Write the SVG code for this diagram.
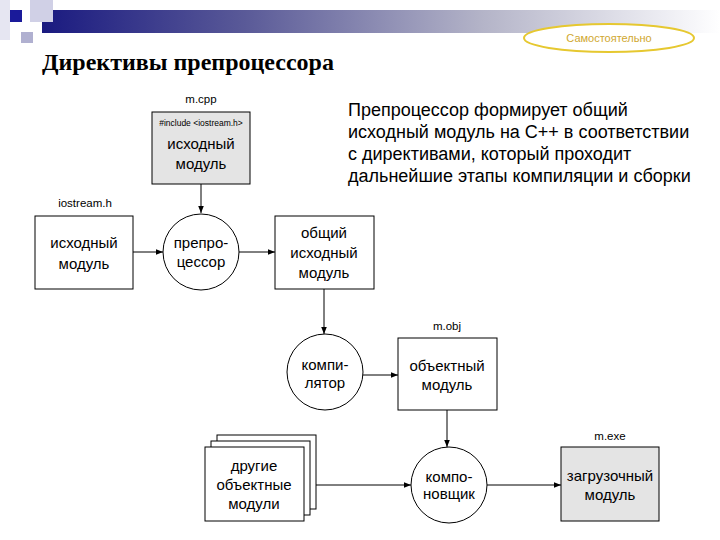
<svg xmlns="http://www.w3.org/2000/svg" width="720" height="540" viewBox="0 0 720 540">
<defs>
<linearGradient id="bar" x1="0" y1="0" x2="1" y2="0">
<stop offset="0" stop-color="#1a1a80"/>
<stop offset="0.3" stop-color="#5a5a98"/>
<stop offset="0.65" stop-color="#b4b4c8"/>
<stop offset="0.95" stop-color="#f4f4f8"/>
<stop offset="1" stop-color="#ffffff"/>
</linearGradient>
<marker id="arr" viewBox="0 0 10 10" refX="10" refY="5" markerWidth="7" markerHeight="7" orient="auto" markerUnits="userSpaceOnUse">
<path d="M0,1 L10,5 L0,9 Z" fill="#000"/>
</marker>
<style>
.box{fill:#fff;stroke:#000;stroke-width:1}
.gray{fill:#e4e4e4;stroke:#000;stroke-width:1}
.t{font-family:"Liberation Sans",Arial,sans-serif;font-size:15px;fill:#000;text-anchor:middle}
.s{font-family:"Liberation Sans",Arial,sans-serif;font-size:11.5px;fill:#000;text-anchor:middle}
.c{stroke:#000;stroke-width:1;fill:none;marker-end:url(#arr)}
.p{font-family:"Liberation Sans",Arial,sans-serif;font-size:18px;fill:#000}
</style>
</defs>
<rect width="720" height="540" fill="#fff"/>
<g id="decor">
<rect x="42" y="10" width="678" height="23" fill="url(#bar)"/>
<rect x="0" y="0" width="10" height="40" fill="#e6e6f2"/>
<rect x="30" y="0" width="23" height="22" fill="#d0d0e6"/>
<rect x="21" y="32" width="12" height="11" fill="#b0b0d0"/>
<rect x="10" y="10" width="12" height="12" fill="#1a1a9a"/>
</g>
<g id="badge">
<ellipse cx="609" cy="38" rx="85" ry="14" fill="#fff" stroke="#e6c830" stroke-width="2"/>
<text x="609" y="42" font-family="Liberation Sans,Arial,sans-serif" font-size="11px" fill="#d0a830" text-anchor="middle">Самостоятельно</text>
</g>
<text id="title" x="42" y="70" font-family="Liberation Serif,Times New Roman,serif" font-size="24px" font-weight="bold" fill="#000">Директивы препроцессора</text>
<g id="desc">
<text class="p" x="348" y="116">Препроцессор формирует общий</text>
<text class="p" x="348" y="138">исходный модуль на С++ в соответствии</text>
<text class="p" x="348" y="160">с директивами, который проходит</text>
<text class="p" x="348" y="182">дальнейшие этапы компиляции и сборки</text>
</g>
<g id="connectors">
<line class="c" x1="201" y1="184" x2="201" y2="213"/>
<line class="c" x1="133" y1="252" x2="163" y2="252"/>
<line class="c" x1="239" y1="252" x2="275" y2="252"/>
<line class="c" x1="324" y1="289" x2="324" y2="334"/>
<line class="c" x1="363" y1="375" x2="398" y2="375"/>
<line class="c" x1="447" y1="410" x2="447" y2="447"/>
<line class="c" x1="304" y1="485" x2="411" y2="485"/>
<line class="c" x1="487" y1="485" x2="561" y2="485"/>
</g>
<g id="mcpp">
<text class="s" x="201" y="103">m.cpp</text>
<rect class="gray" x="152" y="112" width="98" height="72"/>
<text x="201" y="126" font-family="Liberation Sans,Arial,sans-serif" font-size="8.5px" text-anchor="middle">#include &lt;iostream.h&gt;</text>
<text class="t" x="201" y="149">исходный</text>
<text class="t" x="201" y="169">модуль</text>
</g>
<g id="iostream">
<text class="s" x="85" y="207">iostream.h</text>
<rect class="box" x="35" y="216" width="98" height="73"/>
<text class="t" x="84" y="248">исходный</text>
<text class="t" x="84" y="269">модуль</text>
</g>
<g id="preprocessor">
<circle class="box" cx="201" cy="252" r="38"/>
<text class="t" x="201" y="248">препро-</text>
<text class="t" x="201" y="267">цессор</text>
</g>
<g id="common">
<rect class="box" x="275" y="216" width="99" height="73"/>
<text class="t" x="324" y="238">общий</text>
<text class="t" x="324" y="258">исходный</text>
<text class="t" x="324" y="278">модуль</text>
</g>
<g id="compiler">
<circle class="box" cx="325" cy="372" r="38"/>
<text class="t" x="325" y="370">компи-</text>
<text class="t" x="325" y="388">лятор</text>
</g>
<g id="mobj">
<text class="s" x="447" y="330">m.obj</text>
<rect class="box" x="398" y="338" width="99" height="72"/>
<text class="t" x="447" y="371">объектный</text>
<text class="t" x="447" y="390">модуль</text>
</g>
<g id="others">
<rect class="box" x="217" y="435" width="99" height="74"/>
<rect class="box" x="211" y="441" width="99" height="74"/>
<rect class="box" x="205" y="447" width="99" height="74"/>
<text class="t" x="254" y="471">другие</text>
<text class="t" x="254" y="490">объектные</text>
<text class="t" x="254" y="509">модули</text>
</g>
<g id="linker">
<circle class="box" cx="449" cy="485" r="38"/>
<text class="t" x="449" y="482">компо-</text>
<text class="t" x="449" y="499">новщик</text>
</g>
<g id="mexe">
<text class="s" x="610" y="440">m.exe</text>
<rect class="gray" x="561" y="447" width="98" height="74"/>
<text class="t" x="610" y="481">загрузочный</text>
<text class="t" x="610" y="500">модуль</text>
</g>
</svg>
